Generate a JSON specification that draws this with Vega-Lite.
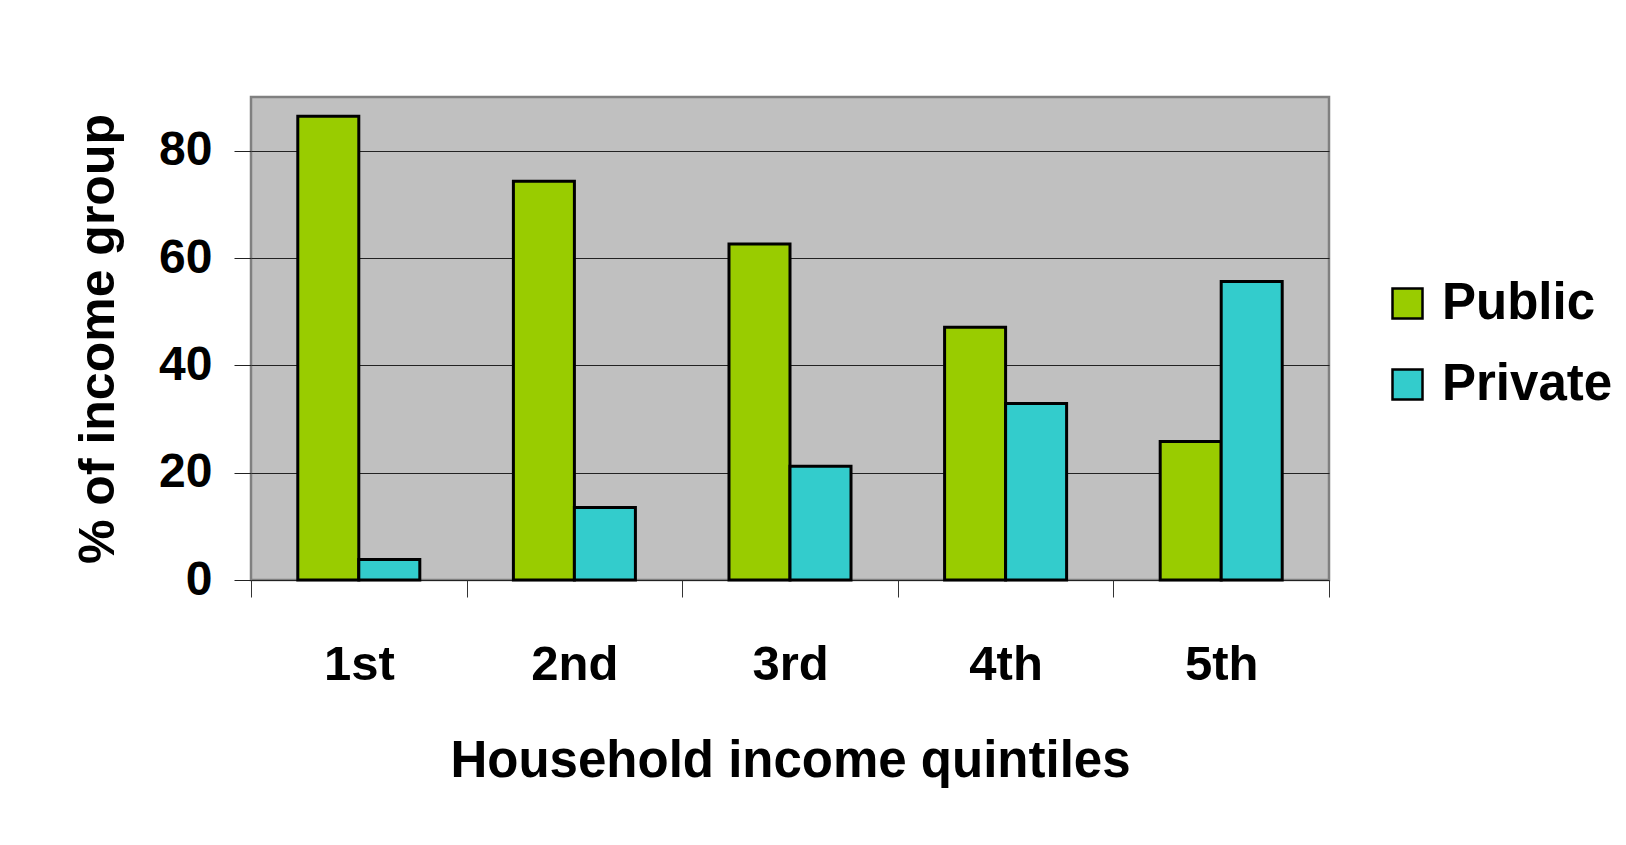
{
  "$schema": "https://vega.github.io/schema/vega-lite/v6.json",
  "autosize": {"type": "none"},
  "padding": {"left": 251, "top": 97, "right": 297, "bottom": 265},
  "width": 1078,
  "height": 483,
  "background": "white",
  "data": {
    "values": [
      {"quintile": "1st", "sector": "Public", "pct": 86.4},
      {"quintile": "1st", "sector": "Private", "pct": 3.8},
      {"quintile": "2nd", "sector": "Public", "pct": 74.3},
      {"quintile": "2nd", "sector": "Private", "pct": 13.5},
      {"quintile": "3rd", "sector": "Public", "pct": 62.6},
      {"quintile": "3rd", "sector": "Private", "pct": 21.2},
      {"quintile": "4th", "sector": "Public", "pct": 47.1},
      {"quintile": "4th", "sector": "Private", "pct": 32.9},
      {"quintile": "5th", "sector": "Public", "pct": 25.8},
      {"quintile": "5th", "sector": "Private", "pct": 55.6}
    ]
  },
  "mark": {"type": "bar", "stroke": "black", "strokeWidth": 3},
  "encoding": {
    "x": {
      "field": "quintile",
      "type": "nominal",
      "sort": ["1st", "2nd", "3rd", "4th", "5th"],
      "scale": {"paddingInner": 0, "paddingOuter": 0},
      "axis": {
        "title": "Household income quintiles",
        "titleFont": "Liberation Sans",
        "titleFontSize": 51,
        "titleFontWeight": "bold",
        "titleColor": "black",
        "titleBaseline": "alphabetic",
        "titleY": 196,
        "titleX": 539,
        "labelAngle": 0,
        "labelFont": "Liberation Sans",
        "labelFontSize": 49,
        "labelFontWeight": "bold",
        "labelColor": "black",
        "labelBaseline": "alphabetic",
        "labelPadding": 82,
        "tickBand": "extent",
        "tickSize": 17,
        "tickColor": "#333333",
        "tickWidth": 1,
        "domain": false,
        "grid": false
      }
    },
    "xOffset": {
      "field": "sector",
      "type": "nominal",
      "sort": ["Public", "Private"],
      "scale": {"paddingInner": 0, "paddingOuter": 0.767}
    },
    "y": {
      "field": "pct",
      "type": "quantitative",
      "scale": {"domain": [0, 90], "nice": false},
      "axis": {
        "title": "% of income group",
        "titleFont": "Liberation Sans",
        "titleFontSize": 50,
        "titleFontWeight": "bold",
        "titleColor": "black",
        "titleBaseline": "alphabetic",
        "titleAlign": "center",
        "titleAngle": 270,
        "titleX": -138,
        "titleY": 241.5,
        "values": [0, 20, 40, 60, 80],
        "labelFont": "Liberation Sans",
        "labelFontSize": 48,
        "labelFontWeight": "bold",
        "labelColor": "black",
        "labelPadding": 22,
        "tickSize": 17,
        "tickColor": "#222222",
        "tickWidth": 1,
        "domain": false,
        "grid": true,
        "gridColor": "#222222",
        "gridWidth": 1
      }
    },
    "color": {
      "field": "sector",
      "type": "nominal",
      "sort": ["Public", "Private"],
      "scale": {"domain": ["Public", "Private"], "range": ["#99CC00", "#33CCCC"]},
      "legend": {
        "title": null,
        "orient": "none",
        "legendX": 1131,
        "legendY": 181,
        "padding": 0,
        "symbolType": "square",
        "symbolSize": 900,
        "symbolStrokeColor": "black",
        "symbolStrokeWidth": 2.5,
        "symbolOpacity": 1,
        "labelFont": "Liberation Sans",
        "labelFontSize": 51,
        "labelFontWeight": "bold",
        "labelColor": "black",
        "labelOffset": 9,
        "labelLimit": 400,
        "rowPadding": 29
      }
    }
  },
  "config": {
    "view": {"fill": "#C0C0C0", "stroke": "#808080", "strokeWidth": 2.5},
    "bar": {"fillOpacity": 1}
  }
}
